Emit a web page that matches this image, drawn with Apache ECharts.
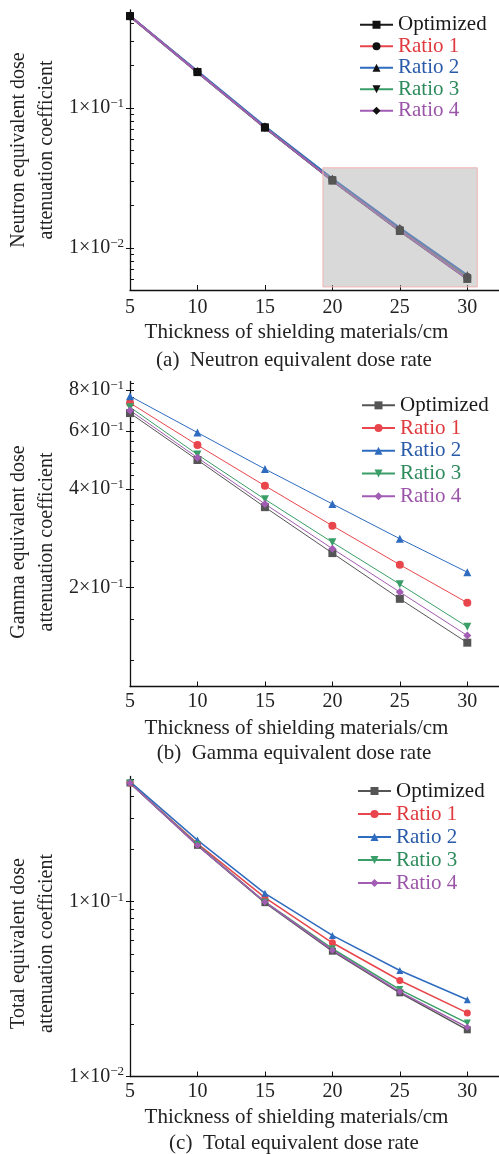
<!DOCTYPE html>
<html>
<head>
<meta charset="utf-8">
<script src="https://cdn.jsdelivr.net/npm/echarts@6/dist/echarts.min.js"></script>
<style>
  html, body { margin: 0; padding: 0; background: #fff; }
  #main { width: 499px; height: 1154px; }
</style>
</head>
<body>
<div id="main"></div>
<script>
var thickness = [5, 10, 15, 20, 25, 30];
var xTicks = [5, 10, 15, 20, 25, 30];
var seriesNames = ['Optimized', 'Ratio 1', 'Ratio 2', 'Ratio 3', 'Ratio 4'];

// (a) neutron
var neutronOptimized = [0.452, 0.180, 0.0722, 0.0302, 0.0132, 0.0060];
var neutronRatio1 = [0.452, 0.181, 0.0728, 0.0307, 0.0135, 0.0062];
var neutronRatio2 = [0.453, 0.183, 0.0738, 0.0313, 0.0139, 0.0064];
var neutronRatio3 = [0.452, 0.180, 0.0725, 0.0304, 0.0133, 0.0061];
var neutronRatio4 = [0.452, 0.180, 0.0724, 0.0303, 0.0133, 0.0060];
var neutronMajor = [0.01, 0.1];
var neutronMinor = [0.006, 0.007, 0.008, 0.009, 0.02, 0.03, 0.04, 0.05, 0.06, 0.07, 0.08, 0.09, 0.2, 0.3, 0.4];
var neutronInset = [[19.3, 0.00526], [30.74, 0.0373]];

// (b) gamma
var gammaOptimized = [0.681, 0.490, 0.352, 0.255, 0.185, 0.136];
var gammaRatio1 = [0.731, 0.544, 0.409, 0.309, 0.235, 0.180];
var gammaRatio2 = [0.767, 0.594, 0.460, 0.360, 0.282, 0.223];
var gammaRatio3 = [0.710, 0.509, 0.372, 0.275, 0.205, 0.152];
var gammaRatio4 = [0.694, 0.498, 0.360, 0.263, 0.194, 0.143];
var gammaMajor = [0.2, 0.4, 0.6, 0.8];
var gammaMinor = [0.12, 0.16, 0.24, 0.28, 0.32, 0.36, 0.44, 0.48, 0.52, 0.56, 0.64, 0.68, 0.72, 0.76, 0.84];

// (c) total
var totalOptimized = [0.477, 0.210, 0.0987, 0.0521, 0.0301, 0.0185];
var totalRatio1 = [0.477, 0.215, 0.1054, 0.0582, 0.0354, 0.0231];
var totalRatio2 = [0.486, 0.225, 0.1116, 0.0641, 0.0404, 0.0275];
var totalRatio3 = [0.477, 0.212, 0.0996, 0.0538, 0.0314, 0.0202];
var totalRatio4 = [0.477, 0.210, 0.0996, 0.0528, 0.0305, 0.0191];
var totalMajor = [0.01, 0.1];
var totalMinor = [0.02, 0.03, 0.04, 0.05, 0.06, 0.07, 0.08, 0.09, 0.2, 0.3, 0.4, 0.5];

var serif = '"Liberation Serif", "Times New Roman", serif';
var ink = '#222';
var lineColors = ['#555555', '#e8464c', '#2f6cc0', '#3a9e68', '#a35cb3'];
var textColors = ['#1a1a1a', '#e03a3e', '#2a5ba8', '#2e8b5c', '#9b55a8'];
var symbols = ['rect', 'circle', 'triangle', 'triangle', 'diamond'];
var rotates = [0, 0, 0, 180, 0];

var panels = [
  {
    key: 'a', top: 10, height: 280, min: 0.005, max: 0.5,
    major: neutronMajor, minor: neutronMinor,
    values: [neutronOptimized, neutronRatio1, neutronRatio2, neutronRatio3, neutronRatio4],
    yName: 'Neutron equivalent dose\nattenuation coefficient', yShift: 0,
    labelMargin: 8, nameGap: 32, caption: '(a)  Neutron equivalent dose rate', captionY: 360,
    legendLeft: 359, legendTop: 14, rowH: 21.5,
    lineWidth: 2, symbolSize: 8, blackMarks: true
  },
  {
    key: 'b', top: 381.5, height: 305, min: 0.1, max: 0.85,
    major: gammaMajor, minor: gammaMinor,
    values: [gammaOptimized, gammaRatio1, gammaRatio2, gammaRatio3, gammaRatio4],
    yName: 'Gamma equivalent dose\nattenuation coefficient', yShift: 16,
    labelMargin: 5, nameGap: 31, caption: '(b)  Gamma equivalent dose rate', captionY: 753,
    legendLeft: 361, legendTop: 394, rowH: 22.7,
    lineWidth: 1, symbolSize: 8, blackMarks: false
  },
  {
    key: 'c', top: 776.5, height: 300, min: 0.01, max: 0.52,
    major: totalMajor, minor: totalMinor,
    values: [totalOptimized, totalRatio1, totalRatio2, totalRatio3, totalRatio4],
    yName: 'Total equivalent dose\nattenuation coefficient', yShift: 34,
    labelMargin: 5, nameGap: 30, caption: '(c)  Total equivalent dose rate', captionY: 1143,
    legendLeft: 357, legendTop: 779.5, rowH: 23,
    lineWidth: 1.5, symbolSize: 7, blackMarks: false
  }
];

function sciLabel (v) {
  var e = Math.floor(Math.log10(v) + 1e-9);
  var m = Math.round(v / Math.pow(10, e));
  return m + '×10{s|' + (e < 0 ? '−' + (-e) : e) + '}';
}

var grid = [], xAxis = [], yAxis = [], series = [], legend = [], graphic = [];

panels.forEach(function (p, i) {
  grid.push({ left: 130, right: 0, top: p.top, height: p.height, outerBoundsMode: 'none' });

  xAxis.push({
    gridIndex: i, type: 'value', min: 5, max: 32.35,
    axisLine: { onZero: false, lineStyle: { color: '#111', width: 1.3 } },
    axisTick: { inside: true, length: 5, customValues: xTicks, lineStyle: { color: '#111' } },
    axisLabel: { customValues: xTicks, margin: p.labelMargin, fontSize: 20, fontFamily: serif, color: ink },
    splitLine: { show: false },
    name: 'Thickness of shielding materials/cm', nameLocation: 'middle', nameGap: p.nameGap,
    nameMoveOverlap: false,
    nameTextStyle: { fontSize: 21, lineHeight: 21, fontFamily: serif, color: ink, padding: [0, 36, 0, 0] }
  });

  // major ticks + labels
  yAxis.push({
    gridIndex: i, type: 'log', logBase: 10, min: p.min, max: p.max,
    axisLine: { show: true, lineStyle: { color: '#111', width: 1.3 } },
    axisTick: { show: true, inside: false, length: 4, customValues: p.major, lineStyle: { color: '#111' } },
    axisLabel: {
      customValues: p.major, formatter: sciLabel, margin: 6,
      fontSize: 20, lineHeight: 22, fontFamily: serif, color: ink,
      rich: { s: { fontSize: 13, lineHeight: 12, verticalAlign: 'top', fontFamily: serif, color: ink } }
    },
    splitLine: { show: false },
    name: p.yName, nameLocation: 'middle', nameRotate: 90, nameGap: 69, nameMoveOverlap: false,
    nameTextStyle: { fontSize: 20, lineHeight: 28, fontFamily: serif, color: ink, padding: [0, p.yShift, 0, 0] }
  });
  // minor ticks, inward
  yAxis.push({
    gridIndex: i, type: 'log', logBase: 10, min: p.min, max: p.max, position: 'left',
    axisLine: { show: false },
    axisTick: { show: true, inside: true, length: 4, customValues: p.minor.concat(p.major), lineStyle: { color: '#111' } },
    axisLabel: { show: false },
    splitLine: { show: false }
  });

  var legendData = [];
  seriesNames.forEach(function (name, k) {
    var full = p.key + '|' + name;
    legendData.push({ name: full, textStyle: { color: textColors[k] } });
    var color = (p.key === 'a' && k === 0) ? '#1a1a1a' : lineColors[k];
    var s = {
      name: full, type: 'line', xAxisIndex: i, yAxisIndex: i * 2,
      data: thickness.map(function (x, j) { return [x, p.values[k][j]]; }),
      symbol: symbols[k], symbolSize: p.symbolSize, symbolRotate: rotates[k],
      lineStyle: { color: color, width: p.lineWidth },
      itemStyle: { color: p.blackMarks ? '#111' : color },
      emphasis: { disabled: true }, silent: true
    };
    if (p.key === 'a' && k === 4) {
      // grey inset box laid over the tail of the curves
      s.markArea = {
        silent: true, z: 10,
        itemStyle: { color: 'rgba(170,171,172,0.45)', borderColor: '#f3b4b4', borderWidth: 1 },
        data: [[{ coord: neutronInset[0] }, { coord: neutronInset[1] }]]
      };
    }
    series.push(s);
  });

  legend.push({
    orient: 'vertical', left: p.legendLeft, top: p.legendTop, padding: 0,
    itemWidth: 33, itemHeight: 10, itemGap: 0, selectedMode: false,
    data: legendData,
    formatter: function (name) { return name.split('|')[1]; },
    textStyle: { fontSize: 21, lineHeight: p.rowH, fontFamily: serif }
  });

  graphic.push({
    type: 'text', x: 294, y: p.captionY,
    style: { text: p.caption, font: '21px ' + serif, fill: ink, align: 'center', verticalAlign: 'middle' }
  });
});

var chartDom = document.getElementById('main');
var myChart = echarts.init(chartDom);
var option = {
  animation: false,
  backgroundColor: '#fff',
  grid: grid,
  xAxis: xAxis,
  yAxis: yAxis,
  legend: legend,
  series: series,
  graphic: graphic
};
option && myChart.setOption(option);
</script>
</body>
</html>
